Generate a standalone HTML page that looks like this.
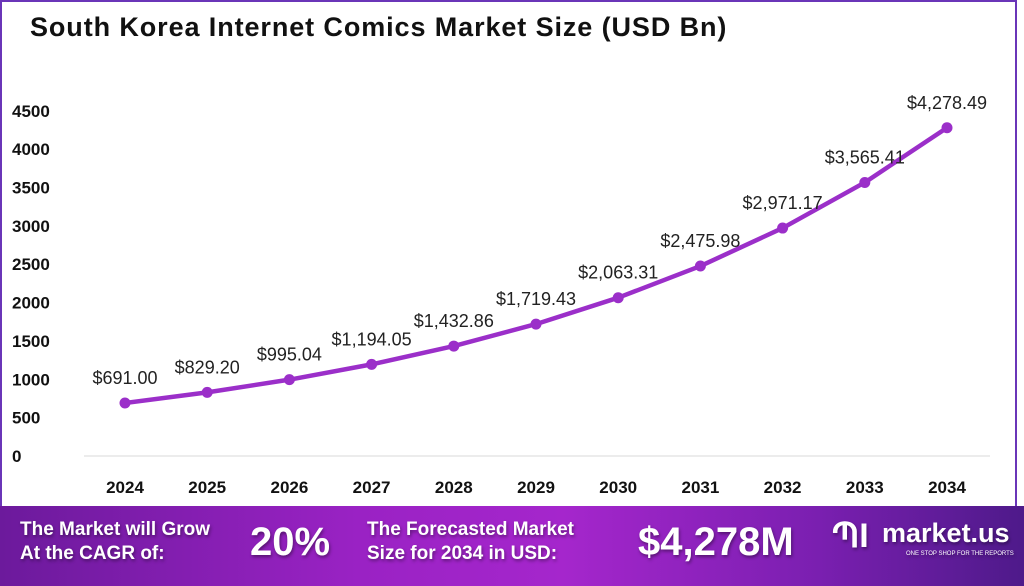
<!DOCTYPE html>
<html><head><meta charset="utf-8"><style>
body{margin:0;width:1024px;height:586px;overflow:hidden;background:#fff;font-family:"Liberation Sans",sans-serif}
#wrap{position:absolute;left:0;top:0;width:1024px;height:586px}
#frame{position:absolute;left:0;top:0;width:1013px;height:520px;border:2px solid #6a35b8;border-bottom:none;box-sizing:content-box}
#title{position:absolute;left:30px;top:12px;font-size:27px;font-weight:bold;color:#111;letter-spacing:0.9px}
#banner{position:absolute;left:0;top:506px;width:1024px;height:80px;background:linear-gradient(90deg,#6c1a9c 0%,#9a22c4 35%,#a526cc 55%,#7a1fb0 80%,#4e1a8a 100%)}
.bt{position:absolute;color:#fff;font-weight:bold;text-shadow:1px 2px 3px rgba(0,0,0,.4)}
</style></head><body><div id="wrap">
<div id="frame"></div>
<div id="title">South Korea Internet Comics Market Size (USD Bn)</div>
<svg id="chart" width="1024" height="506" style="position:absolute;left:0;top:0"></svg>
<div id="banner">
<div class="bt" style="left:20px;top:12px;font-size:19px;line-height:24px">The Market will Grow<br>At the CAGR of:</div>
<div class="bt" style="left:250px;top:14px;font-size:40px">20%</div>
<div class="bt" style="left:367px;top:12px;font-size:19px;line-height:24px">The Forecasted Market<br>Size for 2034 in USD:</div>
<div class="bt" style="left:638px;top:14px;font-size:40px">$4,278M</div>
<div class="bt" style="left:832px;top:10px;font-size:34px">ՊI</div>
<div class="bt" style="left:882px;top:12px;font-size:27px">market.us</div>
<div class="bt" style="left:906px;top:45px;font-size:6px;font-weight:normal">ONE STOP SHOP FOR THE REPORTS</div>
</div>
</div>
<script>
const years=["2024","2025","2026","2027","2028","2029","2030","2031","2032","2033","2034"];
const values=[691.00,829.20,995.04,1194.05,1432.86,1719.43,2063.31,2475.98,2971.17,3565.41,4278.49];
const labels=["$691.00","$829.20","$995.04","$1,194.05","$1,432.86","$1,719.43","$2,063.31","$2,475.98","$2,971.17","$3,565.41","$4,278.49"];
const yTicks=[0,500,1000,1500,2000,2500,3000,3500,4000,4500];
const NS="http://www.w3.org/2000/svg";
const svg=document.getElementById('chart');
const x=i=>125+i*82.2;
const y=v=>456-v*0.07672;
function mk(t,a){const e=document.createElementNS(NS,t);for(const k in a)e.setAttribute(k,a[k]);svg.appendChild(e);return e;}
const ax=mk('line',{x1:84,x2:990,y1:456,y2:456,stroke:'#d9d9d9','stroke-width':1});


yTicks.forEach(t=>{const e=mk('text',{x:12,y:y(t)+6,'font-size':17,'font-weight':'bold',fill:'#111'});e.textContent=t;

});
years.forEach((yr,i)=>{const e=mk('text',{x:x(i),y:493,'font-size':17,'font-weight':'bold',fill:'#111','text-anchor':'middle'});e.textContent=yr;

});
const pl=mk('polyline',{points:values.map((v,i)=>x(i)+','+y(v)).join(' '),fill:'none',stroke:'#9b2fc9','stroke-width':4.5,'stroke-linejoin':'round'});


values.forEach((v,i)=>{const c=mk('circle',{cx:x(i),cy:y(v),r:5.5,fill:'#9b2fc9'});


const t=mk('text',{x:x(i),y:y(v)-19,'font-size':18,fill:'#222','text-anchor':'middle'});t.textContent=labels[i];

});
</script></body></html>
